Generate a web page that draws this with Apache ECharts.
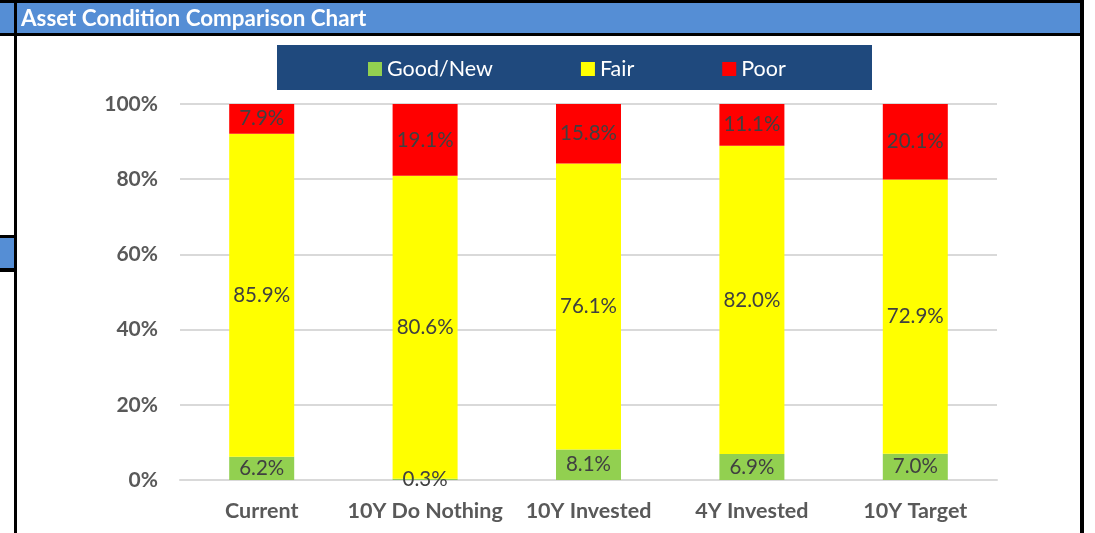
<!DOCTYPE html>
<html>
<head>
<meta charset="utf-8">
<script src="https://cdn.jsdelivr.net/npm/echarts@6/dist/echarts.min.js"></script>
<style>
  html, body { margin: 0; padding: 0; background: #fff; }
  #chart { width: 1095px; height: 533px; }
</style>
</head>
<body>
<div id="chart"></div>
<script>
var categories = ['Current', '10Y Do Nothing', '10Y Invested', '4Y Invested', '10Y Target'];
var goodNew = [6.2, 0.3, 8.1, 6.9, 7.0];
var fair = [85.9, 80.6, 76.1, 82.0, 72.9];
var poor = [7.9, 19.1, 15.8, 11.1, 20.1];

var chartDom = document.getElementById('chart');
var myChart = echarts.init(chartDom);
var option;

var font = 'Lato, "Open Sans", sans-serif';
var labelOption = {
  show: true,
  position: 'inside',
  color: '#404040',
  fontSize: 20.5,
  fontFamily: font,
  formatter: function (p) { return p.value.toFixed(1) + '%'; }
};

option = {
  animation: false,
  textStyle: { fontFamily: font },
  graphic: [
    // header band and borders
    { type: 'rect', shape: { x: 0, y: 0, width: 1083, height: 35 }, style: { fill: '#558ED5' }, silent: true },
    { type: 'rect', shape: { x: 0, y: 0, width: 1084, height: 3 }, style: { fill: '#000' }, silent: true },
    { type: 'rect', shape: { x: 0, y: 33, width: 1084, height: 3 }, style: { fill: '#000' }, silent: true },
    { type: 'rect', shape: { x: 14, y: 0, width: 3, height: 533 }, style: { fill: '#000' }, silent: true },
    { type: 'rect', shape: { x: 1080, y: 0, width: 4, height: 533 }, style: { fill: '#000' }, silent: true },
    { type: 'rect', shape: { x: 0, y: 235, width: 15, height: 37 }, style: { fill: '#000' }, silent: true },
    { type: 'rect', shape: { x: 0, y: 238, width: 14, height: 30 }, style: { fill: '#558ED5' }, silent: true },
    {
      type: 'text', left: 21, top: 8, silent: true,
      style: { text: 'Asset Condition Comparison Chart', fill: '#fff', font: 'bold 22.4px ' + font }
    },
    // legend background
    { type: 'rect', shape: { x: 277, y: 45, width: 595, height: 45 }, style: { fill: '#1F497D' }, silent: true, z: 0 }
  ],
  legend: {
    left: 363,
    top: 53,
    itemWidth: 14,
    itemHeight: 14,
    itemGap: 88,
    icon: 'rect',
    textStyle: { color: '#fff', fontSize: 21.5, fontFamily: font },
    data: ['Good/New', 'Fair', 'Poor'],
    z: 5
  },
  grid: {
    left: 180,
    right: 98,
    top: 104,
    bottom: 53
  },
  xAxis: {
    type: 'category',
    data: categories,
    axisTick: { show: false },
    axisLine: { lineStyle: { color: '#d9d9d9', width: 2 } },
    axisLabel: { interval: 0, color: '#595959', fontSize: 21.5, fontWeight: 'bold', margin: 20, fontFamily: font }
  },
  yAxis: {
    type: 'value',
    min: 0,
    max: 100,
    interval: 20,
    axisLine: { show: false },
    axisTick: { show: false },
    splitLine: { lineStyle: { color: '#d9d9d9', width: 2 } },
    axisLabel: {
      color: '#595959', fontSize: 21, fontWeight: 'bold', margin: 22, fontFamily: font,
      formatter: '{value}%'
    }
  },
  series: [
    {
      name: 'Good/New',
      type: 'bar',
      stack: 'total',
      barWidth: 65,
      itemStyle: { color: '#92D050' },
      label: labelOption,
      data: goodNew
    },
    {
      name: 'Fair',
      type: 'bar',
      stack: 'total',
      barWidth: 65,
      itemStyle: { color: '#FFFF00' },
      label: labelOption,
      data: fair
    },
    {
      name: 'Poor',
      type: 'bar',
      stack: 'total',
      barWidth: 65,
      itemStyle: { color: '#FF0000' },
      label: labelOption,
      data: poor
    }
  ]
};

option && myChart.setOption(option);
</script>
</body>
</html>
